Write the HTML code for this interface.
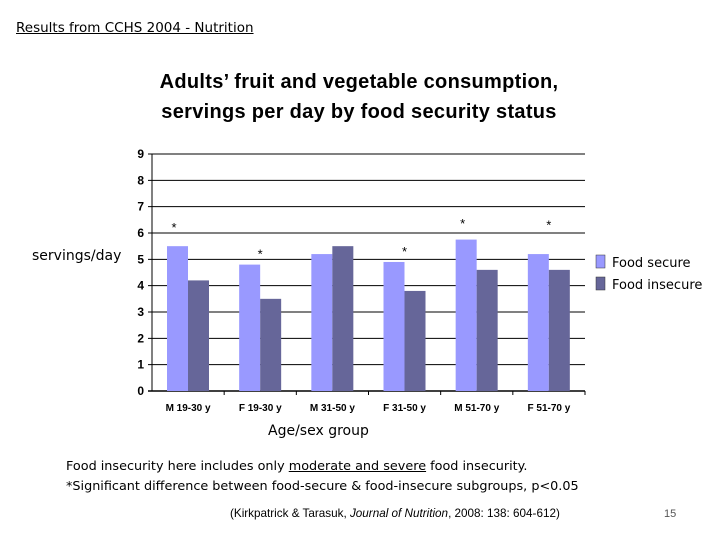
<!DOCTYPE html>
<html><head><meta charset="utf-8"><style>
body{margin:0;width:720px;height:540px;background:#fff;position:relative;overflow:hidden;font-family:"DejaVu Sans",sans-serif}
.t{position:absolute;white-space:nowrap}
</style></head><body>
<div class="t" style="left:16px;top:20px;font-size:13.5px;text-decoration:underline">Results from CCHS 2004 - Nutrition</div>
<div class="t" style="left:4px;width:710px;top:67px;font-size:20px;font-weight:bold;font-family:'Liberation Sans',sans-serif;text-align:center;line-height:30px;letter-spacing:0.3px">Adults’ fruit and vegetable consumption,<br>servings per day by food security status</div>
<div class="t" style="left:32px;top:248px;font-size:14px">servings/day</div>
<div class="t" style="left:268px;top:423px;font-size:14px">Age/sex group</div>
<div class="t" style="left:66px;top:457px;font-size:12.8px;line-height:20px">Food insecurity here includes only <u>moderate and severe</u> food insecurity.<br>*Significant difference between food-secure &amp; food-insecure subgroups, p&lt;0.05</div>
<div class="t" style="left:230px;top:507px;font-size:11.7px;font-family:'Liberation Sans',sans-serif">(Kirkpatrick &amp; Tarasuk, <i>Journal of Nutrition</i>, 2008: 138: 604-612)</div>
<div class="t" style="left:664px;top:508px;font-size:11px;color:#555;font-family:'Liberation Sans',sans-serif">15</div>
<svg width="720" height="540" style="position:absolute;left:0;top:0" id="c"></svg>
<script>
const categories=["M 19-30 y","F 19-30 y","M 31-50 y","F 31-50 y","M 51-70 y","F 51-70 y"];
const secure=[5.5,4.8,5.2,4.9,5.75,5.2];
const insecure=[4.2,3.5,5.5,3.8,4.6,4.6];
const significant=[true,true,false,true,true,true];
const starValues=[6.3,5.3,0,5.4,6.45,6.4];
const yTicks=[0,1,2,3,4,5,6,7,8,9];
const ns="http://www.w3.org/2000/svg";
const svg=document.getElementById('c');
const x0=152,x1=585,yb=391,yt=154;
const y=v=>yb-(v/9)*(yb-yt);
const gw=(x1-x0)/categories.length;
function mk(t,a,txt){const e=document.createElementNS(ns,t);for(const k in a)e.setAttribute(k,a[k]);if(txt!==undefined)e.textContent=txt;svg.appendChild(e);return e;}
yTicks.forEach(v=>{
 const l=mk('line',{x1:x0-4,x2:x1,y1:y(v),y2:y(v),stroke:'#000','stroke-width':v===0?1.5:1});
 
 
 const t=mk('text',{x:x0-8,y:y(v)+4,'text-anchor':'end','font-size':12,'font-weight':'bold','font-family':'Liberation Sans'},v);
 
 
});
const ax=mk('line',{x1:x0,x2:x0,y1:yt,y2:yb,stroke:'#000'});


categories.forEach((c,i)=>{
 const gx=x0+i*gw;
 const b1=mk('rect',{x:gx+15,y:y(secure[i]),width:21,height:yb-y(secure[i]),fill:'#9999ff'});
 
 
 const b2=mk('rect',{x:gx+36,y:y(insecure[i]),width:21,height:yb-y(insecure[i]),fill:'#666699'});
 
 
 const tk=mk('line',{x1:gx+gw,x2:gx+gw,y1:yb,y2:yb+4,stroke:'#000'});
 
 
 const t=mk('text',{x:gx+gw/2,y:yb+20,'text-anchor':'middle','font-size':10,'font-weight':'bold','font-family':'Liberation Sans'},c);
 
 
 if(significant[i]){
  const s=mk('text',{x:gx+(i%2?36:22),y:y(starValues[i])+7,'text-anchor':'middle','font-size':13,'font-family':'Liberation Sans'},'*');
  
  
 }
});
[['#9999ff','Food secure',261],['#666699','Food insecure',283]].forEach(([col,lab,yy])=>{
 const r=mk('rect',{x:596,y:yy-6,width:9,height:13,fill:col,stroke:'#333','stroke-width':0.5});
 
 
 const t=mk('text',{x:612,y:yy+6,'font-size':13,'font-family':'DejaVu Sans'},lab);
 
 
});
</script>
</body></html>
